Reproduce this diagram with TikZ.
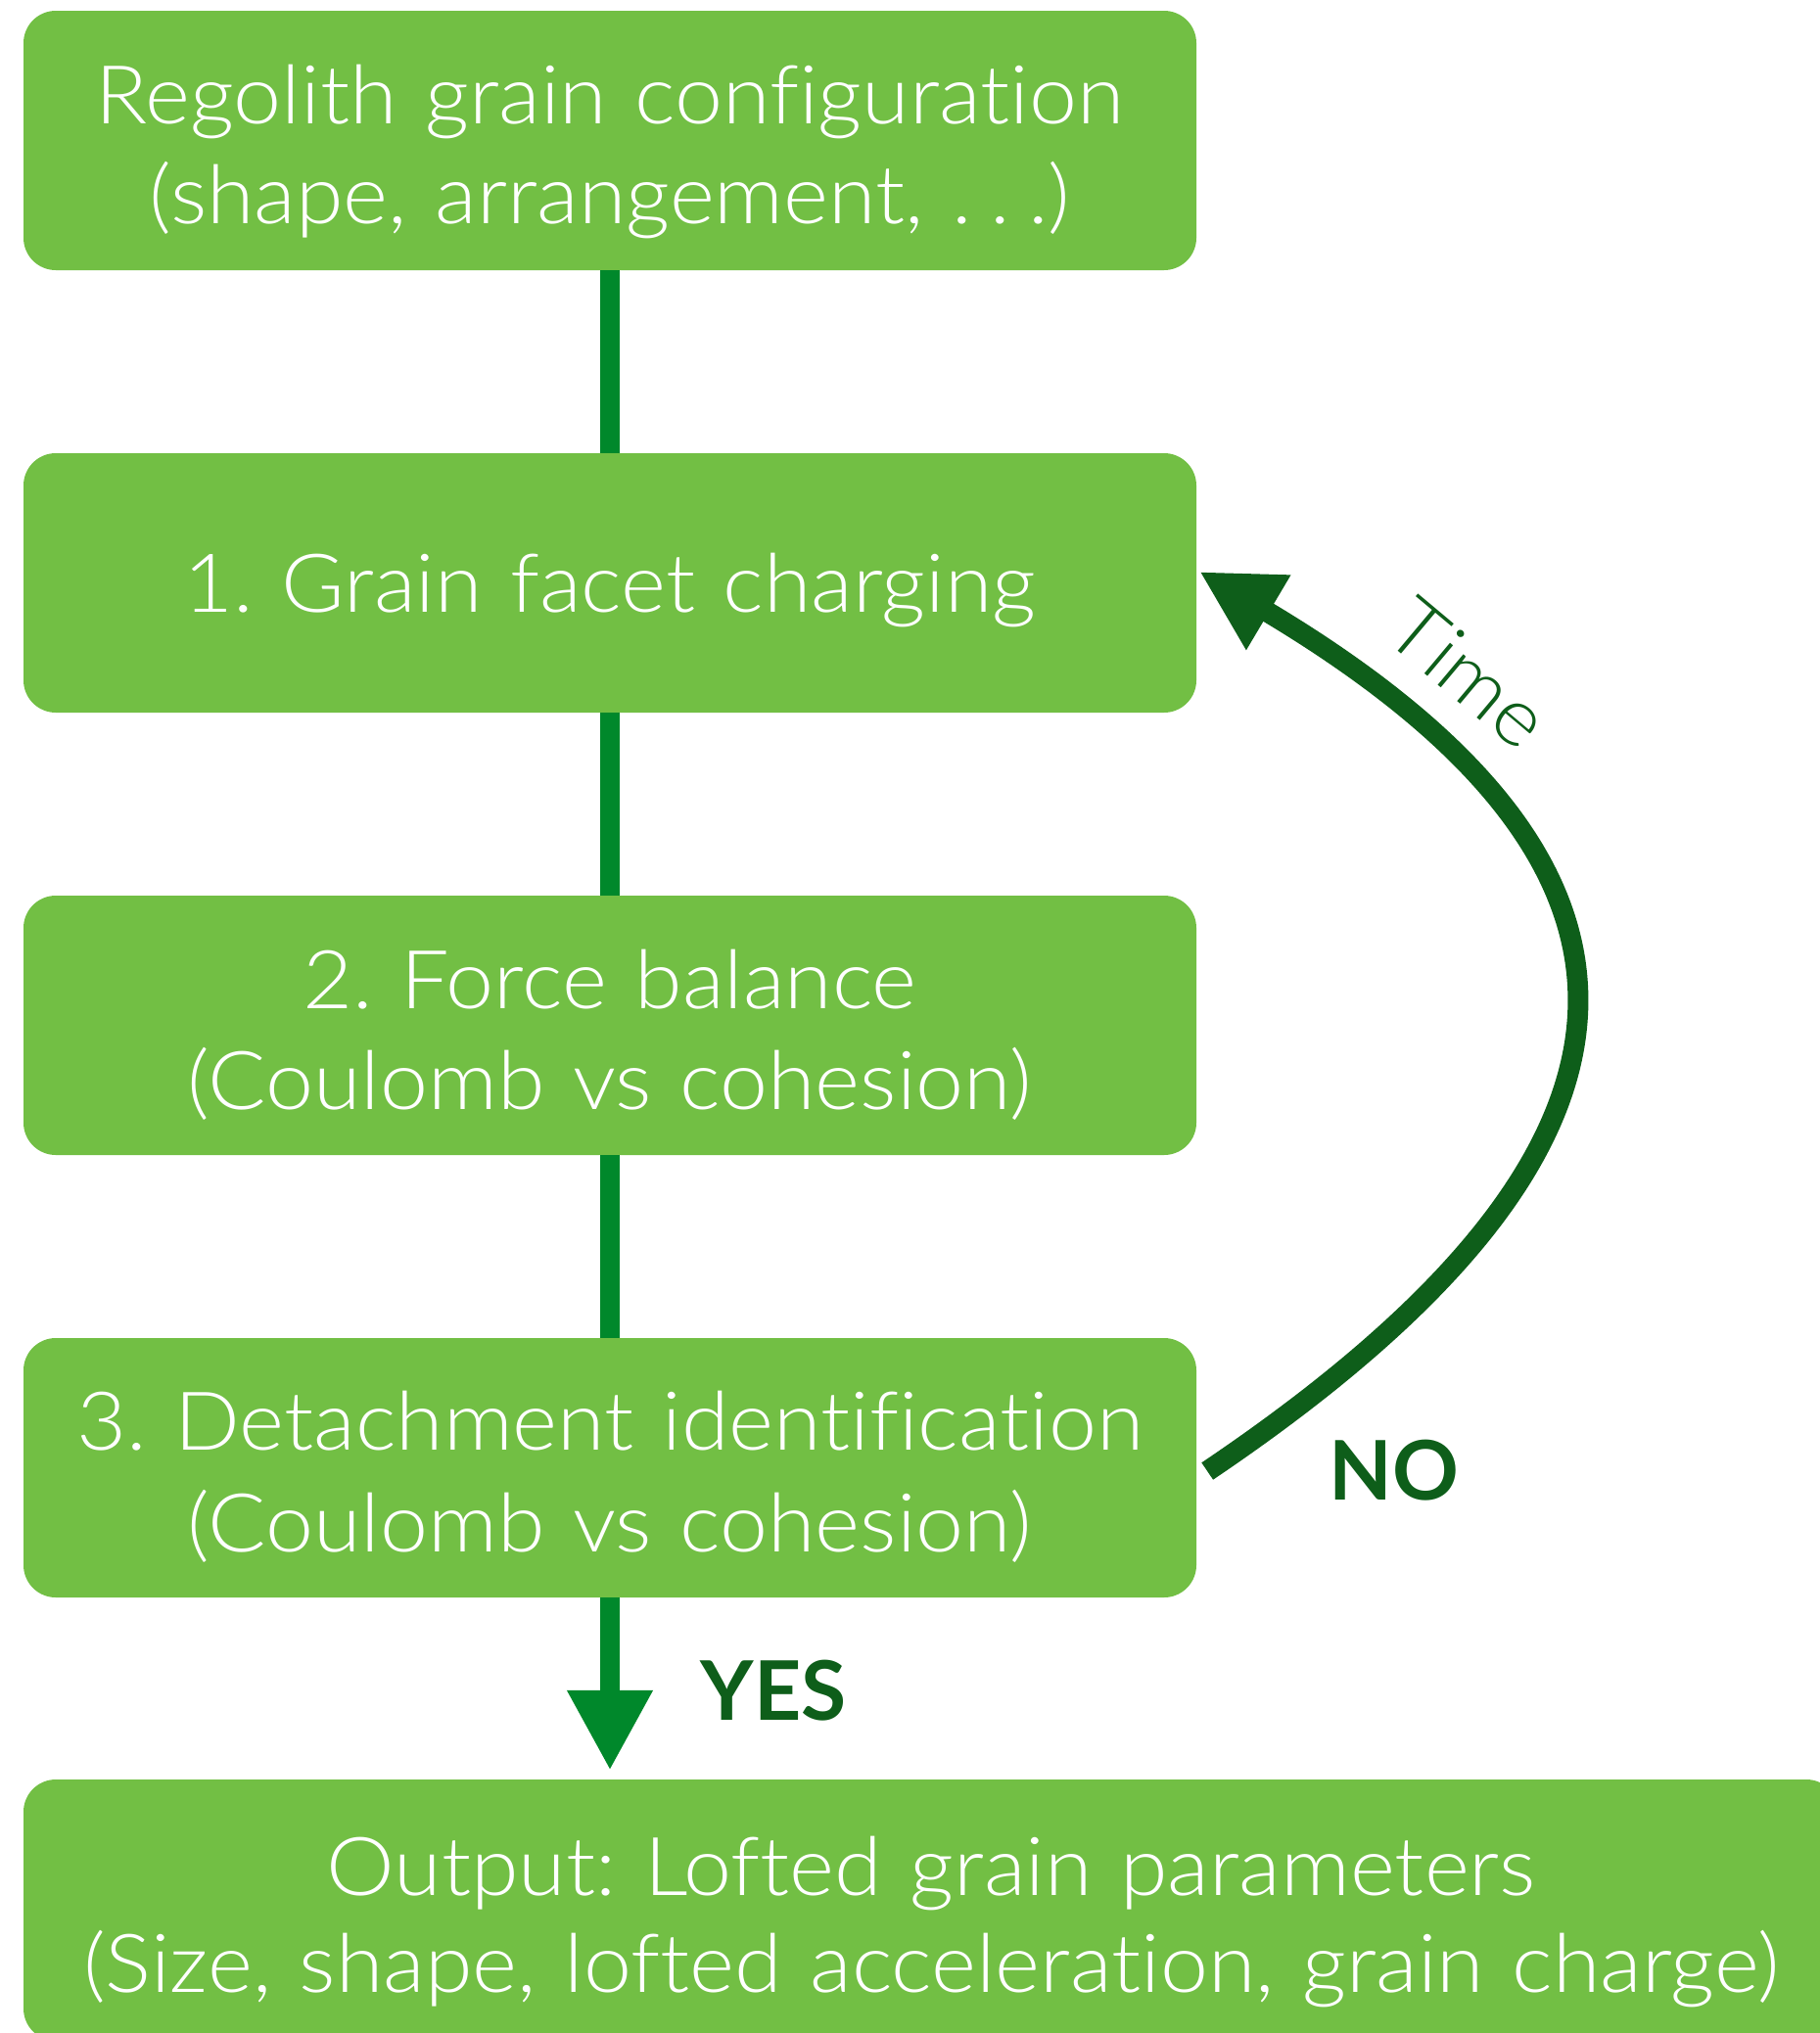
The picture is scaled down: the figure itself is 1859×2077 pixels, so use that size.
\documentclass[tikz,border=0pt]{standalone}
\usepackage{fontspec}
\setmainfont{Lato}[UprightFont={* Light}, BoldFont={* Bold}, Ligatures=NoCommon, FakeStretch=1.06, WordSpace=1.2]
\newfontfamily\lblfont{Lato}[UprightFont={* Bold}, Ligatures=NoCommon]
\usetikzlibrary{arrows.meta}
\definecolor{boxgreen}{HTML}{72BF44}
\definecolor{conngreen}{HTML}{00882B}
\definecolor{darkgreen}{HTML}{0E5E1A}
\frenchspacing
\begin{document}
\begin{tikzpicture}[x=1pt,y=-1pt,
  stepbox/.style={fill=boxgreen, draw=none, rounded corners=33pt, minimum width=1198pt, minimum height=265pt, inner sep=0pt},
  txt/.style={text=white, font=\fontsize{83}{102}\selectfont, anchor=base, inner sep=0pt},
  conn/.style={draw=conngreen, line width=20pt},
  lbl/.style={text=darkgreen, font=\fontsize{84}{100}\selectfont\lblfont, inner sep=0pt}
]
\useasboundingbox (0,0) rectangle (1859,2077);
\node[stepbox] (b0) at (623,143.5) {};
\node[stepbox] (b1) at (623,595.5) {};
\node[stepbox] (b2) at (623,1047.5) {};
\node[stepbox] (b3) at (623,1499.5) {};
\node[stepbox, minimum width=1854pt, minimum height=267pt] (b4) at (951,1951.5) {};

\node[txt] (t0a) at (623,126) {Regolith grain configuration};
\node[txt] (t0b) at (623,228) {(shape, arrangement, .\kern0.22em.\kern0.22em.)};
\node[txt] (t1a) at (623,625) {1. Grain facet charging};
\node[txt] (t2a) at (623,1030) {2. Force balance};
\node[txt] (t2b) at (623,1133) {(Coulomb vs cohesion)};
\node[txt] (t3a) at (623,1481) {3. Detachment identification};
\node[txt] (t3b) at (623,1585) {(Coulomb vs cohesion)};
\node[txt] (t4a) at (951,1936) {Output: Lofted grain parameters};
\node[txt] (t4b) at (951,2035) {(Size, shape, lofted acceleration, grain charge)};

\draw[conn] (b0.south) -- (b1.north);
\draw[conn] (b1.south) -- (b2.north);
\draw[conn] (b2.south) -- (b3.north);
\draw[conn, -{Triangle[width=82pt,length=82pt]}, shorten >=9pt] (b3.south) -- (b3.south |- b4.north);

\draw[draw=darkgreen, fill=none, line width=21pt, -{Triangle[width=83pt,length=82pt,fill=darkgreen]}]
  ([xshift=11pt,yshift=-3.5pt]b3.east) .. controls (1730,1168) and (1724.5,883.5) .. (1296,626)
  -- ([xshift=3pt,yshift=11.5pt]b1.east);

\node[text=darkgreen, font=\fontsize{82}{90}\selectfont, rotate=-40, inner sep=0pt] (time) at (1500,688) {Time};
\node[lbl] (no) at (1424,1502) {NO};
\node[lbl] (yes) at (790,1727) {YES};
\end{tikzpicture}
\end{document}
